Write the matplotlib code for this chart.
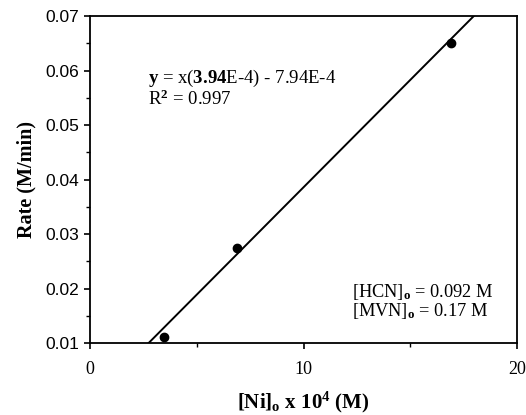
import numpy as np
import matplotlib
matplotlib.use("Agg")
import matplotlib.pyplot as plt
from matplotlib.ticker import MultipleLocator

plt.rcParams['font.family'] = ['Liberation Serif', 'DejaVu Serif']
plt.rcParams['mathtext.fontset'] = 'custom'
plt.rcParams['mathtext.rm'] = 'Liberation Serif'
plt.rcParams['mathtext.bf'] = 'Liberation Serif:bold'
plt.rcParams['mathtext.it'] = 'Liberation Serif:italic'

# data
ni_conc = [3.45, 6.9, 16.9]          # [Ni]o x 10^4 (M)
rate = [0.0111, 0.0275, 0.0651]      # M/min
slope = 3.94e-3                      # per plot unit
intercept = -7.94e-4
fit_x = [0, 20]

fig = plt.figure(figsize=(5.26, 4.15), dpi=100)
ax = fig.add_axes([0.171, 0.173, 0.812, 0.788])

xx = np.linspace(fit_x[0], fit_x[1], 200)
ax.plot(xx, slope * xx + intercept, color='k', lw=1.4)
ax.plot(ni_conc, rate, 'o', color='k', ms=6)

ax.set_xlim(0, 20)
ax.set_ylim(0.01, 0.07)
ax.xaxis.set_minor_locator(MultipleLocator(5))
ax.yaxis.set_minor_locator(MultipleLocator(0.005))
ax.set_xticks([0, 10, 20])
ax.set_xticklabels(['0', '10', '20'], fontsize=13)
ax.set_yticks([0.01, 0.02, 0.03, 0.04, 0.05, 0.06, 0.07])
ax.set_yticklabels(['0.01', '0.02', '0.03', '0.04', '0.05', '0.06', '0.07'],
                   fontsize=12.5, family='Liberation Sans')
ax.tick_params(which='major', direction='out', length=4, width=1.2, color='k')
ax.tick_params(which='minor', direction='out', length=3, width=1.0, color='k')
ax.tick_params(axis='x', pad=9)
ax.tick_params(axis='y', pad=4)
for s in ax.spines.values():
    s.set_linewidth(1.3)

ax.set_ylabel('Rate (M/min)', fontsize=14.5, fontweight='bold', labelpad=6)
ax.set_xlabel(r'[Ni]$_\mathbf{o}$ x 10$^\mathbf{4}$ (M)', fontsize=15,
              fontweight='bold', labelpad=8)

ax.text(2.7, 0.0577, r'$\mathbf{y}$ = x($\mathbf{3.94}$E-4) - 7.94E-4', fontsize=13.5)
ax.text(2.7, 0.0537, r'R$^\mathbf{2}$ = 0.997', fontsize=13.5)
ax.text(12.25, 0.0184, r'[HCN]$_\mathbf{o}$ = 0.092 M', fontsize=13.2)
ax.text(12.25, 0.0150, r'[MVN]$_\mathbf{o}$ = 0.17 M', fontsize=13.2)

fig.savefig('out.png', dpi=100)
